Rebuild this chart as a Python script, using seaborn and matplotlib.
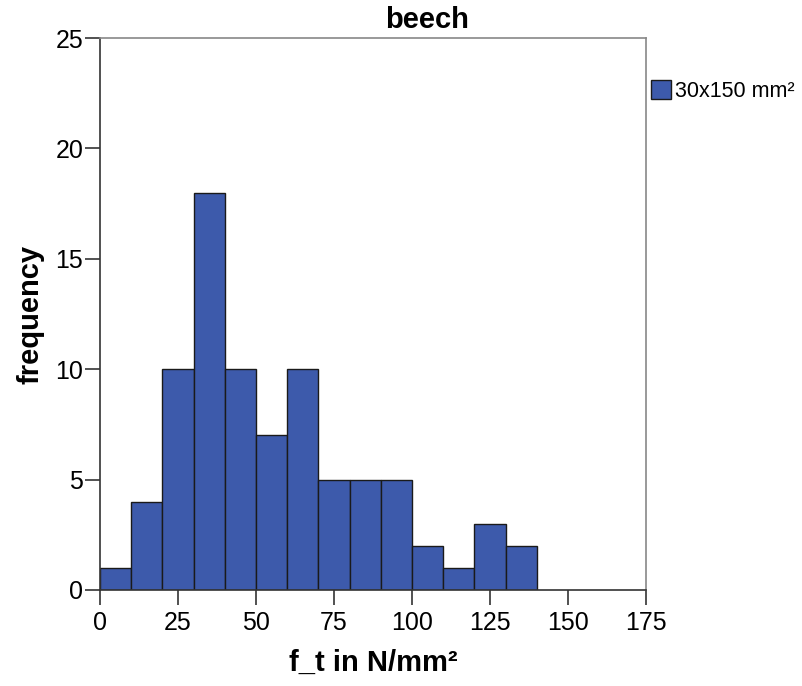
import numpy as np
import pandas as pd
import matplotlib
matplotlib.use("Agg")
import matplotlib.pyplot as plt
import seaborn as sns

# histogram bins and counts
bin_edges = [0, 10, 20, 30, 40, 50, 60, 70, 80, 90, 100, 110, 120, 130, 140]
counts = [1, 4, 10, 18, 10, 7, 10, 5, 5, 5, 2, 1, 3, 2]
x_ticks = [0, 25, 50, 75, 100, 125, 150, 175]
y_ticks = [0, 5, 10, 15, 20, 25]
series_label = "30x150 mm²"

centers = [(a + b) / 2 for a, b in zip(bin_edges[:-1], bin_edges[1:])]
df = pd.DataFrame({"f_t": centers, "n": counts})

sns.set_style("white")
plt.rcParams["font.family"] = ["Liberation Sans", "DejaVu Sans"]

fig = plt.figure(figsize=(8.02, 6.86), dpi=100)
ax = fig.add_axes([0.1247, 0.14, 0.8055 - 0.1247, 0.9446 - 0.14])

sns.histplot(data=df, x="f_t", weights="n", bins=bin_edges, ax=ax,
             color="#3d5aab", alpha=1, edgecolor="#1a1a1a", linewidth=1,
             label=series_label)

ax.set_xlim(0, 175)
ax.set_ylim(0, 25)
ax.set_xticks(x_ticks)
ax.set_yticks(y_ticks)
ax.tick_params(axis="both", which="major", bottom=True, left=True,
               direction="out", length=11, width=1.2, labelsize=18,
               color="#333333", labelcolor="black")
ax.tick_params(axis="y", pad=1)
ax.tick_params(axis="x", pad=4)
for side in ["top", "right"]:
    ax.spines[side].set_color("#888888")
    ax.spines[side].set_linewidth(1.2)
for side in ["left", "bottom"]:
    ax.spines[side].set_color("#333333")
    ax.spines[side].set_linewidth(1.2)

# title sits right of the axes centre in the original
ax.set_title("beech", fontsize=21, fontweight="bold", pad=7, color="black",
             x=0.599)
ax.set_xlabel("f_t in N/mm²", fontsize=21, fontweight="bold", labelpad=10,
              color="black")
ax.set_ylabel("frequency", fontsize=21, fontweight="bold", labelpad=8,
              color="black")

ax.legend(loc="upper left", bbox_to_anchor=(0.993, 0.94), frameon=False,
          fontsize=15.5, handlelength=0.92, handleheight=1.0, handletextpad=0.2,
          borderaxespad=0, labelcolor="black")

fig.savefig("out.png", dpi=100)
